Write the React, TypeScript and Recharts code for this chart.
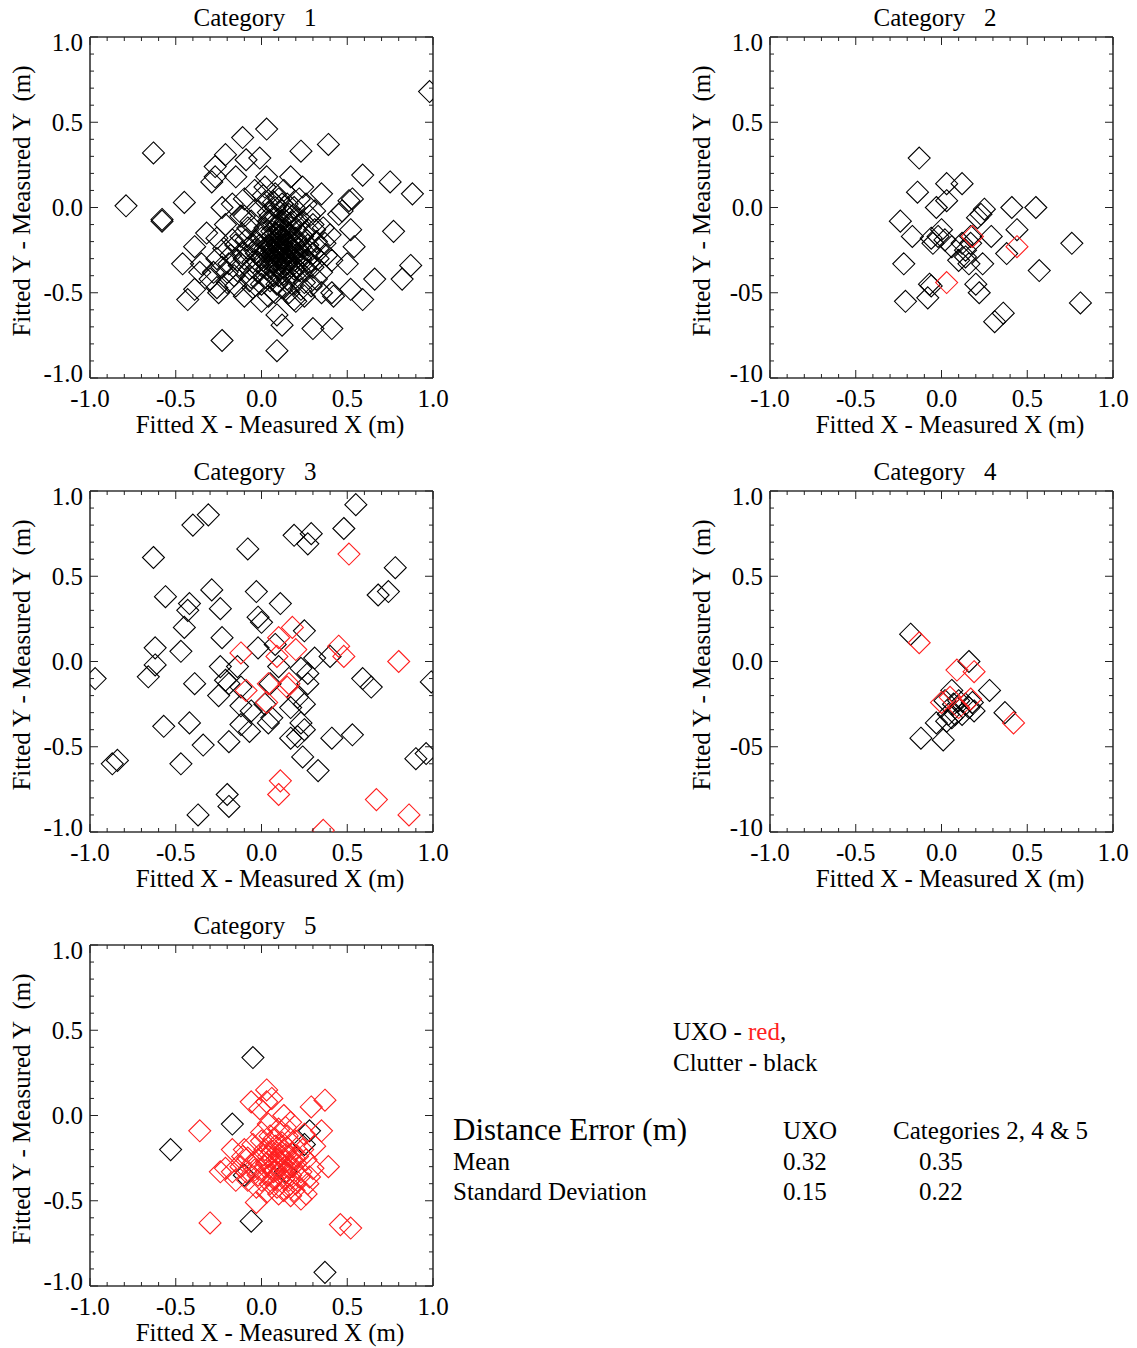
import React from "react";
import { ScatterChart, Scatter, XAxis, YAxis } from "recharts";

type Pt = [number, number];

// fitted minus measured offsets (x, y) in metres, per category
const CAT1_CLUTTER: Pt[] = [
  [0.98, 0.68], [-0.63, 0.32], [-0.79, 0.01], [-0.58, -0.07], [-0.58, -0.08], [-0.45, 0.03],
  [-0.23, -0.78], [0.09, -0.84], [0.30, -0.71], [0.41, -0.71], [0.03, 0.46], [-0.11, 0.41],
  [-0.21, 0.31], [-0.27, 0.24], [-0.29, 0.15], [-0.27, 0.18], [-0.15, 0.18], [-0.09, 0.28],
  [-0.01, 0.29], [0.23, 0.33], [0.39, 0.37], [0.59, 0.19], [0.75, 0.15], [0.88, 0.08],
  [0.77, -0.14], [0.87, -0.34], [0.82, -0.42], [0.66, -0.42], [0.59, -0.54], [0.52, -0.48],
  [0.41, -0.50], [0.42, -0.52], [0.54, -0.23], [0.50, -0.33], [0.52, -0.13], [0.51, 0.04],
  [0.47, -0.02], [0.35, 0.08], [0.24, 0.12], [0.17, 0.18], [0.03, 0.18], [-0.04, 0.10],
  [-0.23, 0.00], [-0.32, -0.15], [-0.46, -0.33], [-0.43, -0.54], [-0.39, -0.48], [-0.26, -0.47],
  [-0.25, -0.50], [-0.15, -0.46], [0.09, -0.63], [0.12, -0.69], [0.00, -0.55], [0.19, -0.54],
  [0.25, -0.52], [0.35, -0.50], [0.41, -0.31], [0.37, -0.21], [0.31, -0.13], [0.45, -0.04],
  [-0.39, -0.23], [-0.35, -0.33], [-0.23, -0.35], [-0.17, -0.19], [-0.17, 0.02], [-0.10, -0.05],
  [-0.12, -0.17], [-0.06, -0.41], [0.53, 0.05], [-0.30, -0.42], [-0.36, -0.38],
  [0.05, -0.05], [0.08, 0.00], [0.12, -0.02], [0.15, 0.02], [0.10, 0.05], [0.03, 0.03],
  [0.18, -0.05], [0.14, -0.08], [0.07, -0.10], [0.02, -0.12], [0.11, -0.13], [0.17, -0.12],
  [0.22, -0.10], [0.25, -0.15], [0.20, -0.18], [0.13, -0.18], [0.06, -0.17], [0.00, -0.18],
  [-0.04, -0.20], [0.04, -0.22], [0.09, -0.22], [0.15, -0.22], [0.21, -0.24], [0.27, -0.22],
  [0.30, -0.27], [0.24, -0.28], [0.18, -0.27], [0.12, -0.26], [0.07, -0.27], [0.02, -0.26],
  [-0.03, -0.27], [-0.08, -0.24], [-0.10, -0.30], [-0.05, -0.32], [0.01, -0.31], [0.06, -0.32],
  [0.11, -0.30], [0.16, -0.31], [0.22, -0.33], [0.28, -0.32], [0.33, -0.30], [0.26, -0.37],
  [0.19, -0.36], [0.13, -0.35], [0.08, -0.37], [0.03, -0.36], [-0.02, -0.38], [-0.07, -0.36],
  [-0.13, -0.34], [-0.18, -0.28], [-0.15, -0.22], [-0.20, -0.38], [0.10, -0.40], [0.15, -0.42],
  [0.05, -0.43], [0.20, -0.41], [0.25, -0.44], [0.12, -0.47], [0.00, -0.45], [0.08, -0.50],
  [0.16, -0.50], [-0.05, -0.47], [0.35, -0.38], [0.32, -0.20], [0.36, -0.12], [-0.08, -0.12],
  [-0.12, -0.05], [0.14, -0.25], [0.09, -0.19], [0.12, -0.21], [0.10, -0.24], [0.17, -0.20],
  [0.06, -0.25], [0.13, -0.28], [0.08, -0.15], [0.16, -0.15], [0.04, -0.08], [0.11, -0.08],
  [0.19, 0.00], [0.01, 0.07], [0.22, 0.05], [0.28, -0.05], [0.30, -0.10], [-0.02, -0.02],
  [0.13, 0.10], [0.08, 0.08], [0.11, -0.17], [0.14, -0.33], [0.05, -0.29], [0.18, -0.38],
  [-0.01, -0.22], [0.23, -0.30], [0.09, -0.34], [0.15, -0.05],
  [0.10, -0.23], [0.12, -0.22], [0.09, -0.21], [0.13, -0.24], [0.11, -0.26], [0.08, -0.24],
  [0.14, -0.21], [0.15, -0.26], [0.07, -0.20], [0.16, -0.23], [0.10, -0.28], [0.12, -0.19],
  [0.05, -0.23], [0.18, -0.25], [0.09, -0.27], [0.13, -0.30], [0.06, -0.28], [0.17, -0.28],
  [0.11, -0.16], [0.14, -0.17], [0.04, -0.19], [0.19, -0.21], [0.08, -0.31], [0.15, -0.33],
  [0.02, -0.24], [0.21, -0.27], [0.10, -0.33], [0.18, -0.18], [0.06, -0.14], [0.12, -0.12],
  [0.20, -0.13], [0.00, -0.29], [0.23, -0.23], [0.03, -0.33], [0.17, -0.09], [0.09, -0.11],
  [0.24, -0.17], [0.26, -0.31], [0.20, -0.35], [0.13, -0.39], [0.07, -0.40], [0.01, -0.15],
  [-0.02, -0.32], [-0.04, -0.25], [0.22, -0.37], [0.28, -0.26], [0.16, -0.36], [0.05, -0.35],
  [0.11, -0.36], [0.19, -0.31], [0.14, -0.14], [0.08, -0.06], [0.16, -0.04], [0.21, -0.07],
  [0.04, -0.03], [0.12, 0.02], [0.07, 0.03], [-0.06, -0.08], [-0.09, -0.19], [-0.11, -0.27],
  [-0.14, -0.31], [-0.07, -0.43], [0.02, -0.41], [0.18, -0.45], [0.23, -0.48], [0.09, -0.45],
  [0.30, -0.35], [0.32, -0.42], [0.27, -0.13], [0.33, -0.24], [-0.16, -0.40], [-0.19, -0.33],
  [-0.22, -0.24], [-0.26, -0.30], [-0.28, -0.38], [-0.20, -0.44], [-0.10, -0.52], [0.04, -0.52],
  [0.20, -0.55], [0.29, -0.46], [0.38, -0.28], [0.40, -0.16], [-0.21, -0.10], [-0.26, -0.18],
  [0.02, 0.12], [0.26, 0.02], [-0.10, 0.05], [0.31, -0.02],
];
const CAT1_UXO: Pt[] = [];

const CAT2_CLUTTER: Pt[] = [
  [-0.13, 0.29], [-0.14, 0.09], [0.03, 0.14], [0.12, 0.14], [0.03, 0.04], [-0.03, 0.00],
  [-0.24, -0.08], [-0.17, -0.17], [-0.22, -0.33], [-0.21, -0.55], [-0.08, -0.53], [-0.07, -0.45],
  [-0.06, -0.46], [0.25, -0.01], [0.23, -0.04], [0.21, -0.06], [0.41, 0.00], [0.55, 0.00],
  [0.44, -0.13], [0.29, -0.17], [0.38, -0.27], [0.76, -0.21], [0.57, -0.37], [0.81, -0.56],
  [0.20, -0.45], [0.22, -0.50], [0.36, -0.62], [0.31, -0.67], [0.24, -0.33], [0.16, -0.33],
  [0.14, -0.29], [0.10, -0.31], [0.06, -0.23], [-0.02, -0.17], [0.00, -0.13], [-0.05, -0.21],
  [-0.06, -0.18], [0.02, -0.19], [0.12, -0.21], [0.14, -0.25], [0.17, -0.21], [0.17, -0.17],
];
const CAT2_UXO: Pt[] = [[0.18, -0.17], [0.44, -0.23], [0.03, -0.44]];

const CAT3_CLUTTER: Pt[] = [
  [0.55, 0.92], [-0.31, 0.86], [-0.40, 0.80], [0.48, 0.78], [0.19, 0.74], [0.29, 0.75],
  [0.27, 0.69], [-0.08, 0.66], [-0.63, 0.61], [0.78, 0.55], [0.68, 0.39], [0.74, 0.41],
  [-0.56, 0.38], [-0.29, 0.42], [-0.03, 0.41], [-0.42, 0.34], [-0.43, 0.30], [-0.24, 0.31],
  [0.11, 0.34], [-0.02, 0.26], [0.00, 0.23], [-0.45, 0.20], [-0.23, 0.14], [0.25, 0.18],
  [-0.62, 0.08], [-0.47, 0.06], [-0.62, -0.02], [-0.66, -0.09], [-0.97, -0.10], [-0.39, -0.13],
  [-0.24, -0.03], [-0.14, -0.03], [-0.02, 0.08], [0.08, 0.10], [0.40, 0.03], [0.59, -0.10],
  [0.64, -0.15], [0.99, -0.12], [-0.21, -0.11], [-0.19, -0.13], [-0.25, -0.20], [-0.12, -0.15],
  [0.05, -0.13], [0.10, -0.03], [0.23, -0.04], [0.27, -0.07], [0.31, 0.02], [0.27, -0.13],
  [0.21, -0.21], [0.25, -0.25], [0.17, -0.27], [0.02, -0.25], [-0.06, -0.29], [-0.12, -0.26],
  [-0.12, -0.37], [-0.07, -0.41], [0.04, -0.36], [0.06, -0.33], [0.23, -0.36], [0.25, -0.40],
  [0.17, -0.45], [0.21, -0.44], [-0.57, -0.38], [-0.42, -0.36], [-0.34, -0.49], [-0.19, -0.47],
  [0.41, -0.45], [0.53, -0.43], [0.24, -0.56], [0.33, -0.64], [-0.87, -0.60], [-0.84, -0.58],
  [-0.47, -0.60], [0.90, -0.57], [0.96, -0.54], [-0.20, -0.78], [-0.19, -0.85], [-0.37, -0.90],
];
const CAT3_UXO: Pt[] = [
  [0.51, 0.63], [0.18, 0.20], [0.10, 0.14], [0.20, 0.07], [-0.12, 0.05], [0.09, 0.03],
  [0.45, 0.09], [0.48, 0.03], [0.80, 0.00], [0.04, -0.13], [0.15, -0.15], [0.16, -0.13],
  [-0.09, -0.17], [0.03, -0.24], [0.11, -0.70], [0.10, -0.78], [0.67, -0.81], [0.86, -0.90],
  [0.36, -0.99],
];

const CAT4_CLUTTER: Pt[] = [
  [-0.18, 0.16], [0.16, 0.00], [0.28, -0.17], [0.37, -0.30], [-0.12, -0.45], [0.01, -0.46],
  [-0.03, -0.36], [0.04, -0.31], [0.07, -0.25], [0.10, -0.23], [0.14, -0.25], [0.16, -0.27],
  [0.18, -0.24], [0.19, -0.29], [0.06, -0.33], [0.08, -0.31], [0.12, -0.31], [0.03, -0.35],
  [0.06, -0.17], [0.02, -0.23],
];
const CAT4_UXO: Pt[] = [
  [-0.13, 0.11], [0.09, -0.05], [0.19, -0.06], [0.00, -0.24], [0.05, -0.21], [0.17, -0.22],
  [0.10, -0.27], [0.42, -0.36],
];

const CAT5_CLUTTER: Pt[] = [
  [-0.05, 0.34], [-0.17, -0.05], [-0.53, -0.20], [-0.06, -0.62], [0.37, -0.92], [0.28, -0.09],
  [0.25, -0.17], [-0.10, -0.35], [0.14, -0.33],
];
const CAT5_UXO: Pt[] = [
  [-0.36, -0.09], [-0.30, -0.63], [0.46, -0.64], [0.52, -0.66], [0.03, 0.15], [-0.06, 0.08],
  [0.03, 0.08], [-0.01, 0.04], [0.06, 0.10], [0.29, 0.05], [0.37, 0.09], [0.35, -0.09],
  [0.39, -0.30], [0.13, 0.00], [0.17, -0.04], [-0.17, -0.20], [-0.24, -0.33], [-0.21, -0.31],
  [-0.17, -0.33], [-0.03, -0.51], [0.23, -0.49],
  [0.00, -0.10], [0.05, -0.12], [0.10, -0.08], [0.15, -0.12], [0.20, -0.15], [-0.05, -0.17],
  [0.02, -0.20], [0.08, -0.18], [0.13, -0.20], [0.18, -0.22], [0.24, -0.20], [-0.08, -0.25],
  [-0.02, -0.26], [0.04, -0.24], [0.09, -0.26], [0.14, -0.27], [0.20, -0.28], [0.26, -0.26],
  [-0.12, -0.30], [-0.04, -0.32], [0.02, -0.30], [0.07, -0.33], [0.12, -0.32], [0.17, -0.35],
  [0.23, -0.33], [0.30, -0.31], [-0.08, -0.38], [0.00, -0.38], [0.05, -0.40], [0.10, -0.38],
  [0.15, -0.42], [0.20, -0.40], [0.27, -0.40], [0.03, -0.45], [0.10, -0.46], [0.17, -0.47],
  [0.06, -0.21], [0.11, -0.23], [0.08, -0.29], [0.16, -0.30], [-0.10, -0.20], [0.31, -0.18],
  [-0.15, -0.38], [0.07, -0.14], [0.12, -0.16], [0.04, -0.35], [0.13, -0.37], [0.19, -0.25],
  [0.09, -0.22], [0.11, -0.27], [0.06, -0.25], [0.14, -0.23], [0.08, -0.32], [0.12, -0.29],
  [0.05, -0.18], [0.15, -0.19], [0.03, -0.28], [0.18, -0.30], [0.10, -0.34], [0.01, -0.23],
  [0.21, -0.24], [0.07, -0.37], [0.16, -0.38], [-0.02, -0.35], [0.22, -0.36], [0.09, -0.42],
  [0.00, -0.15], [0.25, -0.11], [-0.06, -0.29], [0.13, -0.44], [0.19, -0.44], [0.28, -0.36],
  [-0.11, -0.24], [0.04, -0.05], [0.14, -0.07], [-0.03, -0.42], [0.26, -0.46], [-0.09, -0.33],
];

// every 0.1 gets a tick, every 0.5 gets a label
const TICKS = [
  -1.0, -0.9, -0.8, -0.7, -0.6, -0.5, -0.4, -0.3, -0.2, -0.1, 0.0,
  0.1, 0.2, 0.3, 0.4, 0.5, 0.6, 0.7, 0.8, 0.9, 1.0,
];
const X_LABELS = ["-1.0", "-0.5", "0.0", "0.5", "1.0"];
const Y_LABELS = ["-1.0", "-0.5", "0.0", "0.5", "1.0"];
const Y_LABELS_SHORT = ["-10", "-05", "0.0", "0.5", "1.0"];

const STAT_ROWS = ["Mean", "Standard Deviation"];
const STAT_UXO = ["0.32", "0.15"];
const STAT_CATS = ["0.35", "0.22"];

const FONT = '"Liberation Serif", "Times New Roman", serif';
const RED = "#ff1f1f";
const FRAME = "#333";
const MAJOR = 8;
const MINOR = 4;

const isMajor = (v: number) => Math.abs(v * 2 - Math.round(v * 2)) < 1e-6;
const labelIndex = (v: number) => Math.round((v + 1) * 2);
const toRows = (pts: Pt[]) => pts.map(([x, y]) => ({ x, y }));

function diamond(color: string) {
  return (p: any) => {
    const { cx, cy } = p;
    if (cx == null || cy == null) return <g />;
    const r = 11;
    return (
      <path
        d={`M${cx},${cy - r}L${cx + r},${cy}L${cx},${cy + r}L${cx - r},${cy}Z`}
        fill="none"
        stroke={color}
        strokeWidth={1.1}
      />
    );
  };
}

function BottomTick(p: any) {
  const v = p.payload.value;
  const major = isMajor(v);
  return (
    <g>
      <line x1={p.x} x2={p.x} y1={p.y} y2={p.y - (major ? MAJOR : MINOR)} stroke="#222" />
      {major && (
        <text x={p.x} y={p.y + 29} textAnchor="middle" fontFamily={FONT} fontSize={25} fill="#000">
          {X_LABELS[labelIndex(v)]}
        </text>
      )}
    </g>
  );
}

function TopTick(p: any) {
  const major = isMajor(p.payload.value);
  return <line x1={p.x} x2={p.x} y1={p.y} y2={p.y + (major ? MAJOR : MINOR)} stroke="#222" />;
}

function RightTick(p: any) {
  const major = isMajor(p.payload.value);
  return <line x1={p.x} x2={p.x - (major ? MAJOR : MINOR)} y1={p.y} y2={p.y} stroke="#222" />;
}

function leftTick(labels: string[]) {
  return (p: any) => {
    const v = p.payload.value;
    const major = isMajor(v);
    // end labels are pulled inside the frame
    const shift = v > 0.99 ? 5 : v < -0.99 ? -5 : 0;
    return (
      <g>
        <line x1={p.x} x2={p.x + (major ? MAJOR : MINOR)} y1={p.y} y2={p.y} stroke="#222" />
        {major && (
          <text x={p.x - 7} y={p.y + 8.5 + shift} textAnchor="end" fontFamily={FONT} fontSize={25} fill="#000">
            {labels[labelIndex(v)]}
          </text>
        )}
      </g>
    );
  };
}

interface PanelProps {
  left: number;
  top: number;
  title: string;
  clutter: Pt[];
  uxo: Pt[];
  yLabels: string[];
}

function Panel({ left, top, title, clutter, uxo, yLabels }: PanelProps) {
  const axisLine = { stroke: FRAME, strokeWidth: 1.6 };
  return (
    <div style={{ position: "absolute", left, top, width: 440, height: 445 }}>
      <ScatterChart width={440} height={445} margin={{ top: 36, right: 6, bottom: 0, left: 10 }}>
        <XAxis
          xAxisId="b" type="number" dataKey="x" domain={[-1, 1]} ticks={TICKS} interval={0}
          allowDataOverflow height={67} tickSize={0} tickMargin={0} tickLine={false}
          axisLine={axisLine} tick={(p: any) => <BottomTick {...p} />}
        />
        <XAxis
          xAxisId="t" orientation="top" type="number" dataKey="x" domain={[-1, 1]} ticks={TICKS} interval={0}
          allowDataOverflow height={1} tickSize={0} tickMargin={0} tickLine={false}
          axisLine={axisLine} tick={(p: any) => <TopTick {...p} />}
        />
        <YAxis
          yAxisId="l" type="number" dataKey="y" domain={[-1, 1]} ticks={TICKS} interval={0}
          allowDataOverflow width={80} tickSize={0} tickMargin={0} tickLine={false}
          axisLine={axisLine} tick={leftTick(yLabels)}
        />
        <YAxis
          yAxisId="r" orientation="right" type="number" dataKey="y" domain={[-1, 1]} ticks={TICKS} interval={0}
          allowDataOverflow width={1} tickSize={0} tickMargin={0} tickLine={false}
          axisLine={axisLine} tick={(p: any) => <RightTick {...p} />}
        />
        <Scatter xAxisId="b" yAxisId="l" data={toRows(clutter)} shape={diamond("#000")} isAnimationActive={false} />
        <Scatter xAxisId="b" yAxisId="l" data={toRows(uxo)} shape={diamond(RED)} isAnimationActive={false} />
        <Scatter xAxisId="t" yAxisId="r" data={[]} isAnimationActive={false} />
      </ScatterChart>
      <svg
        width={440}
        height={445}
        style={{ position: "absolute", left: 0, top: 0, pointerEvents: "none", overflow: "visible" }}
        fontFamily={FONT}
        fontSize={25}
      >
        <text x={255} y={26} textAnchor="middle" style={{ whiteSpace: "pre" }}>{title}</text>
        <text x={270} y={433} textAnchor="middle">Fitted X - Measured X (m)</text>
        <text transform="translate(30,201) rotate(-90)" textAnchor="middle" style={{ whiteSpace: "pre" }}>
          {"Fitted Y - Measured Y  (m)"}
        </text>
      </svg>
    </div>
  );
}

export default function App() {
  return (
    <div style={{ position: "absolute", left: 0, top: 0, width: 1137, height: 1348, background: "#fff" }}>
      <style>{".recharts-surface { overflow: visible; }"}</style>
      <Panel left={0} top={0} title={"Category   1"} clutter={CAT1_CLUTTER} uxo={CAT1_UXO} yLabels={Y_LABELS} />
      <Panel left={680} top={0} title={"Category   2"} clutter={CAT2_CLUTTER} uxo={CAT2_UXO} yLabels={Y_LABELS_SHORT} />
      <Panel left={0} top={454} title={"Category   3"} clutter={CAT3_CLUTTER} uxo={CAT3_UXO} yLabels={Y_LABELS} />
      <Panel left={680} top={454} title={"Category   4"} clutter={CAT4_CLUTTER} uxo={CAT4_UXO} yLabels={Y_LABELS_SHORT} />
      <Panel left={0} top={908} title={"Category   5"} clutter={CAT5_CLUTTER} uxo={CAT5_UXO} yLabels={Y_LABELS} />
      <svg
        width={1137}
        height={1348}
        style={{ position: "absolute", left: 0, top: 0, pointerEvents: "none" }}
        fontFamily={FONT}
        fontSize={25}
      >
        <text x={673} y={1040}>
          UXO - <tspan fill={RED}>red</tspan>,
        </text>
        <text x={673} y={1071}>Clutter - black</text>
        <text x={453} y={1140} fontSize={31}>Distance Error (m)</text>
        <text x={783} y={1139}>UXO</text>
        <text x={893} y={1139}>Categories 2, 4 &amp; 5</text>
        {STAT_ROWS.map((row, i) => (
          <g key={row}>
            <text x={453} y={1170 + i * 30}>{row}</text>
            <text x={783} y={1170 + i * 30}>{STAT_UXO[i]}</text>
            <text x={919} y={1170 + i * 30}>{STAT_CATS[i]}</text>
          </g>
        ))}
      </svg>
    </div>
  );
}
